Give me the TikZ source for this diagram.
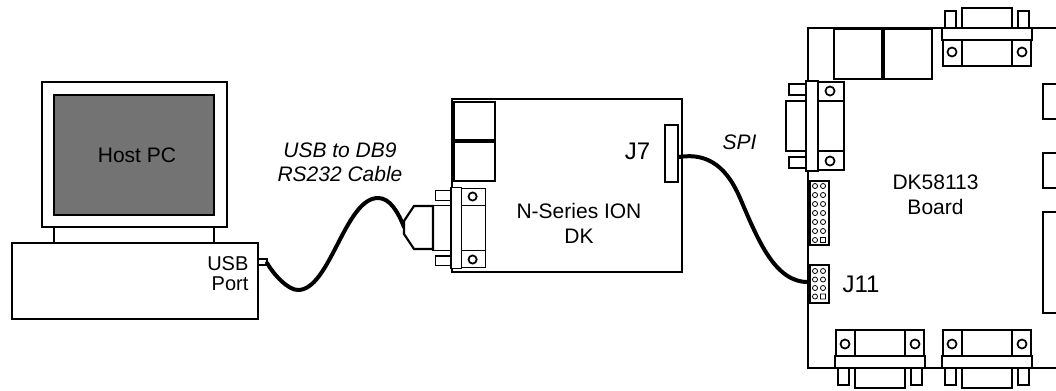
\documentclass[tikz,border=0pt]{standalone}
\usepackage{fontspec}
\setmainfont{Liberation Sans}
\usepackage{tikz}

\definecolor{screengray}{RGB}{115,115,115}

% DB9 connector seen from above, mating side up, board edge at y=0
\newcommand{\serialport}[1]{%
  \begin{scope}[#1]
    % shell and locking tabs
    \draw[fill=white] (-25,-20) rectangle (25,0);
    \draw[fill=white] (-42,-17) rectangle (-31,0);
    \draw[fill=white] (31,-17) rectangle (42,0);
    % body on the board edge
    \draw[fill=white] (-45,0) rectangle (45,12);
    % mounting ears with screw holes
    \draw[fill=white] (-44,12) rectangle (44,38);
    \draw (-25,12) -- (-25,38) (25,12) -- (25,38);
    \draw[line width=1.3pt] (-35,24) circle[radius=3.4pt] (35,24) circle[radius=3.4pt];
  \end{scope}}

\begin{document}
\begin{tikzpicture}[x=0.75pt, y=-0.75pt, line width=0.9pt,
  cable/.style={line width=3pt, line cap=round},
  pinhole/.style={line width=0.6pt},
  lbl/.style={inner sep=0pt, align=center, font=\fontsize{15.75}{18.75}\selectfont},
  cablelbl/.style={inner sep=0pt, align=center, font=\fontsize{15.75}{18}\selectfont\itshape},
  jlbl/.style={inner sep=0pt, font=\fontsize{18}{21}\selectfont}]
\useasboundingbox (0,0) rectangle (1056,390);
\clip (0,0) rectangle (1056,390);

% Host PC: monitor on the case
\draw[line width=1.2pt] (42,82) rectangle (227,227);
\draw[fill=screengray] (54,95) rectangle (214,215);
\draw (54,227) -- (54,243) (214,227) -- (214,243);
\draw[line width=2pt] (12,243) rectangle (258,319);
\draw[fill=white] (258,259) rectangle (267,265);
\coordinate (usb) at (267,263);
\node[lbl] (hostpc) at (137,155) {Host PC};
\node[lbl, anchor=east, align=right, font=\fontsize{15}{14.5}\selectfont] (usbport) at (249,273.5) {USB\\Port};

% N-Series ION DK
\draw (452,99) rectangle (682,272);
\draw (454,102) rectangle (495,140);
\draw (454,142) rectangle (495,181);
\draw (665,125) rectangle (678,182);
\coordinate (j7) at (679,157);
\serialport{shift={(451,228)}, rotate=90, scale=0.9}
\node[lbl] (iondk) at (579,223) {N-Series ION\\DK};
\node[jlbl] (j7lbl) at (637.5,151.5) {J7};

% DK58113 board
\draw (1060,28) -- (808,28) -- (808,368) -- (1060,368);
\draw (834,29) rectangle (882,79);
\draw (884,29) rectangle (932,79);
\draw (1043,84) rectangle (1062,119);
\draw (1043,153) rectangle (1062,188);
\draw (1043,212) rectangle (1062,313);
\serialport{shift={(987,28)}}
\serialport{shift={(806,126)}, rotate=90}
\serialport{shift={(880,368)}, rotate=180}
\serialport{shift={(987,368)}, rotate=180}
\node[lbl] (dkboard) at (935.5,195) {DK58113\\Board};

% USB to DB9 cable
\coordinate (plug) at (404,227);
\draw[cable] (usb) .. controls (274,275) and (288,290) .. (298,290)
  .. controls (330,290) and (345,198) .. (378,198)
  .. controls (390,198) and (398,212) .. (plug);
\draw[fill=white, line width=1.6pt] (433,206) -- (414,206) -- (404,221) -- (404,234) -- (414,249) -- (433,249) -- cycle;
\node[cablelbl] (usbcable) at (340,162.5) {USB to DB9\\RS232 Cable};

% SPI cable
\coordinate (j11) at (809,282);
\draw[cable] (j7) .. controls (710,152) and (728,170) .. (740,198)
  .. controls (758,240) and (775,283) .. (j11);
\node[cablelbl] (spi) at (739.5,142) {SPI};

% Pin header, 2x7
\draw[fill=white] (810,181) rectangle (829,245);
\draw[pinhole] (815,186) circle[radius=1.9pt] (823,186) circle[radius=1.9pt];
\draw[pinhole] (815,195) circle[radius=1.9pt] (823,195) circle[radius=1.9pt];
\draw[pinhole] (815,204) circle[radius=1.9pt] (823,204) circle[radius=1.9pt];
\draw[pinhole] (815,213) circle[radius=1.9pt] (823,213) circle[radius=1.9pt];
\draw[pinhole] (815,222) circle[radius=1.9pt] (823,222) circle[radius=1.9pt];
\draw[pinhole] (815,231) circle[radius=1.9pt] (823,231) circle[radius=1.9pt];
\draw[pinhole] (815,240) circle[radius=1.9pt] (820.5,237.5) rectangle (825.5,242.5);

% J11 header, 2x4
\draw[fill=white] (810,265) rectangle (829,303);
\draw[pinhole] (815,271) circle[radius=1.9pt] (823,271) circle[radius=1.9pt];
\draw[pinhole] (815,279.5) circle[radius=1.9pt] (823,279.5) circle[radius=1.9pt];
\draw[pinhole] (815,288) circle[radius=1.9pt] (823,288) circle[radius=1.9pt];
\draw[pinhole] (815,296.5) circle[radius=1.9pt] (820.5,294) rectangle (825.5,299);
\node[jlbl] (j11lbl) at (861,284) {J11};
\end{tikzpicture}
\end{document}
